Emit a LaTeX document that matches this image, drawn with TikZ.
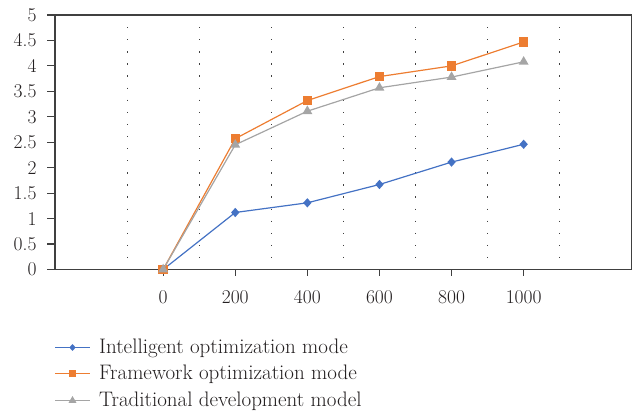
\documentclass[tikz,border=0pt]{standalone}
\usetikzlibrary{shapes.geometric}
\definecolor{sblue}{HTML}{4472C4}
\definecolor{sorange}{HTML}{ED7D31}
\definecolor{sgray}{HTML}{A5A5A5}
\definecolor{axisc}{HTML}{404040}
\definecolor{txtc}{HTML}{231F20}
\begin{document}
\begin{tikzpicture}[x=1pt,y=-1pt,
  axisline/.style={draw=axisc, line width=1.1pt},
  gridline/.style={draw=axisc, line width=1.1pt, dash pattern=on 1.3pt off 10.8pt},
  ticklab/.style={inner sep=0pt, text=txtc, font=\fontsize{19.5}{21}\selectfont},
  leglab/.style={inner sep=0pt, text=txtc, anchor=base west, font=\fontsize{21}{23}\selectfont},
  bline/.style={draw=sblue, line width=1.2pt},
  oline/.style={draw=sorange, line width=1.2pt},
  gline/.style={draw=sgray, line width=1.2pt},
  bmark/.style={diamond, fill=sblue, inner sep=0pt, minimum width=8.5pt, minimum height=9.5pt},
  omark/.style={rectangle, fill=sorange, inner sep=0pt, minimum size=9.5pt},
  gmark/.style={regular polygon, regular polygon sides=3, fill=sgray, inner sep=0pt, minimum size=11.5pt},
  bmarks/.style={bmark, minimum width=6.5pt, minimum height=7pt},
  omarks/.style={omark, minimum size=7.5pt},
  gmarks/.style={gmark, minimum size=9pt}]
\useasboundingbox (0,0) rectangle (634,411);
\begin{scope}[shift={(163.15,269.5)}, x=72.1pt, y=50.9pt]
  % grid
  \foreach \g in {-0.5,0.5,1.5,2.5,3.5,4.5,5.5}
    \draw[gridline] (\g,5) -- (\g,0);
  % frame
  \draw[axisline] ([xshift=-8pt]-1.5,5) -- (6.5,5) -- (6.5,0);
  \draw[axisline] (-1.5,5) -- (-1.5,0) -- ([xshift=-8pt]-1.5,0);
  \draw[axisline] (-1.5,0) -- (6.5,0);
  % y ticks
  \foreach \v [count=\i] in {0,0.5,1,1.5,2,2.5,3,3.5,4,4.5,5} {
    \draw[axisline] (-1.5,\v) -- ++(-8pt,0);
    \node[ticklab, anchor=east] (yl\i) at ([xshift=-18.3pt]-1.5,\v) {\v};
  }
  % x ticks
  \foreach \k/\lab in {0/0,1/200,2/400,3/600,4/800,5/1000} {
    \draw[axisline] (\k,0) -- ++(0,-7pt);
    \node[ticklab, anchor=base] (xl\k) at ([yshift=-34pt]\k,0) {\lab};
  }
  % data coordinates
  \coordinate (b0) at (0,0);    \coordinate (b1) at (1,1.12);
  \coordinate (b2) at (2,1.31); \coordinate (b3) at (3,1.67);
  \coordinate (b4) at (4,2.11); \coordinate (b5) at (5,2.46);
  \coordinate (o0) at (0,0);    \coordinate (o1) at (1,2.57);
  \coordinate (o2) at (2,3.32); \coordinate (o3) at (3,3.79);
  \coordinate (o4) at (4,4.00); \coordinate (o5) at (5,4.47);
  \coordinate (g0) at (0,0);    \coordinate (g1) at (1,2.45);
  \coordinate (g2) at (2,3.11); \coordinate (g3) at (3,3.57);
  \coordinate (g4) at (4,3.78); \coordinate (g5) at (5,4.08);
  % blue series
  \draw[bline] (b0) -- (b1) -- (b2) -- (b3) -- (b4) -- (b5);
  \foreach \i in {0,...,5} \node[bmark] (bm\i) at (b\i) {};
  % orange series
  \draw[oline] (o0) -- (o1) -- (o2) -- (o3) -- (o4) -- (o5);
  \foreach \i in {0,...,5} \node[omark] (om\i) at (o\i) {};
  % gray series
  \draw[gline] (g0) -- (g1) -- (g2) -- (g3) -- (g4) -- (g5);
  \foreach \i in {0,...,5} \node[gmark] (gm\i) at (g\i) {};
\end{scope}
% legend
\coordinate (lb1) at (55,347.5);  \coordinate (lb2) at (90,347.5);
\coordinate (lo1) at (55,373.5);  \coordinate (lo2) at (90,373.5);
\coordinate (lg1) at (55,400.5);  \coordinate (lg2) at (90,400.5);
\draw[bline] (lb1) -- (lb2);
\node[bmarks] (lbm) at (72.5,347.5) {};
\node[leglab] (lbt) at (99,353.8) {Intelligent optimization mode};
\draw[oline] (lo1) -- (lo2);
\node[omarks] (lom) at (72.5,373.5) {};
\node[leglab] (lot) at (99,379.8) {Framework optimization mode};
\draw[gline] (lg1) -- (lg2);
\node[gmarks] (lgm) at (72.5,400.5) {};
\node[leglab] (lgt) at (99,406.8) {Traditional development model};
\end{tikzpicture}
\end{document}
